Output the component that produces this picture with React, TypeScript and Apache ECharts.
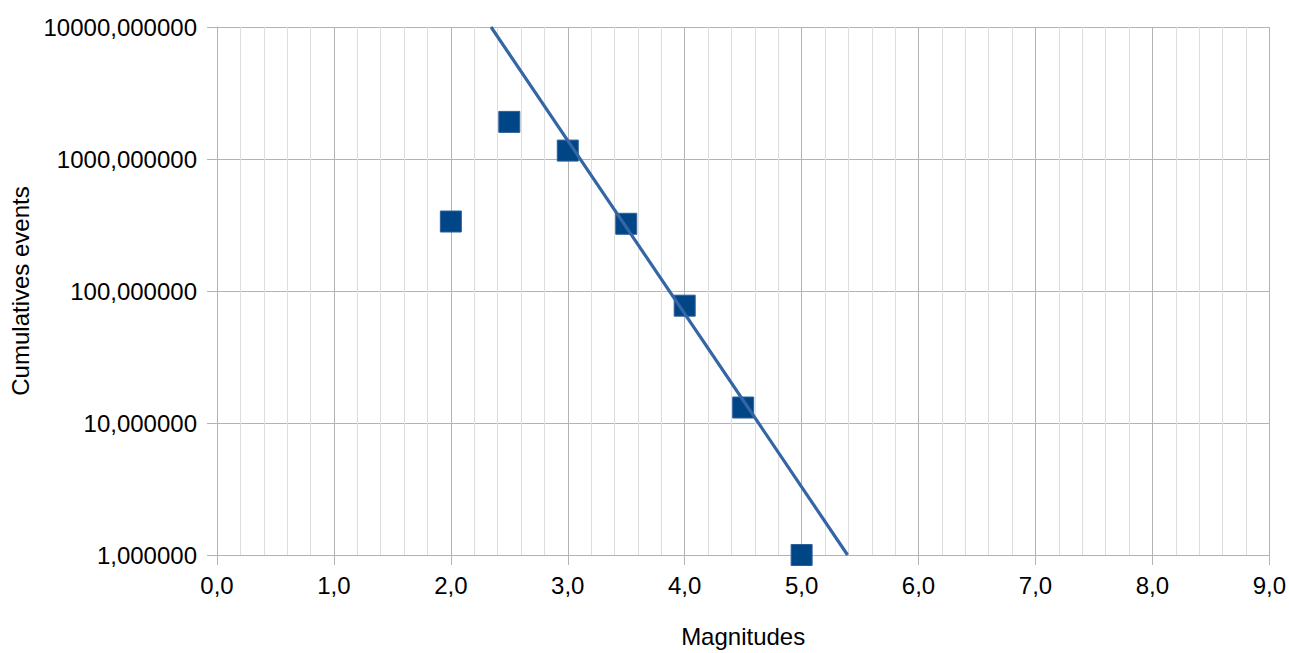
import React, { useEffect, useRef } from "react";
import * as echarts from "echarts";

const magnitudes = [2.0, 2.5, 3.0, 3.5, 4.0, 4.5, 5.0];
const cumulativeEvents = [336, 1910, 1158, 323, 77.4, 13.1, 1];
const trendX = [2.344, 5.393];
const trendY = [10000, 1];
const xTitle = "Magnitudes";
const yTitle = "Cumulatives events";

export default function App() {
  const ref = useRef<HTMLDivElement>(null);
  useEffect(() => {
    if (!ref.current) return;
    const chart = echarts.init(ref.current, null, { renderer: "svg" });
    const font = "'Liberation Sans', Arial, sans-serif";
    chart.setOption({
      animation: false,
      textStyle: { fontFamily: font },
      grid: { left: 217, right: 19, top: 27, bottom: 92, containLabel: false },
      xAxis: {
        type: "value",
        min: 0,
        max: 9,
        interval: 1,
        name: xTitle,
        nameLocation: "middle",
        nameGap: 69,
        nameTextStyle: { fontSize: 24, color: "#000", fontFamily: font, verticalAlign: "top" },
        axisLine: { show: true, onZero: false, lineStyle: { color: "#b3b3b3", width: 1 } },
        axisTick: { show: true, inside: false, length: 10, lineStyle: { color: "#b3b3b3" } },
        axisLabel: {
          fontSize: 24,
          color: "#000",
          margin: 18,
          fontFamily: font,
          formatter: (v: number) => v.toFixed(1).replace(".", ","),
        },
        splitLine: { show: true, lineStyle: { color: "#b3b3b3", width: 1 } },
        minorTick: { show: false, splitNumber: 5 },
        minorSplitLine: { show: true, lineStyle: { color: "#dddddd", width: 1 } },
      },
      yAxis: {
        type: "log",
        logBase: 10,
        min: 1,
        max: 10000,
        name: yTitle,
        nameLocation: "middle",
        nameGap: 185,
        nameRotate: 90,
        nameTextStyle: { fontSize: 24, color: "#000", fontFamily: font },
        axisLine: { show: true, lineStyle: { color: "#b3b3b3", width: 1 } },
        axisTick: { show: true, inside: false, length: 10, lineStyle: { color: "#b3b3b3" } },
        axisLabel: {
          fontSize: 24,
          color: "#000",
          margin: 20,
          fontFamily: font,
          formatter: (v: number) => v.toFixed(6).replace(".", ","),
        },
        splitLine: { show: true, lineStyle: { color: "#b3b3b3", width: 1 } },
        minorSplitLine: { show: false },
      },
      series: [
        {
          type: "line",
          data: trendX.map((x, i) => [x, trendY[i]]),
          showSymbol: false,
          symbol: "none",
          lineStyle: { color: "#3465a4", width: 3.2 },
          z: 3,
        },
        {
          type: "scatter",
          data: magnitudes.map((m, i) => [m, cumulativeEvents[i]]),
          symbol: "rect",
          symbolSize: 21,
          itemStyle: { color: "#004586", borderColor: "#2f5f99", borderWidth: 1, opacity: 1 },
          z: 2,
        },
      ],
    });
    return () => chart.dispose();
  }, []);
  return <div ref={ref} style={{ width: 1289, height: 653, position: "absolute", left: 0, top: 0 }} />;
}
